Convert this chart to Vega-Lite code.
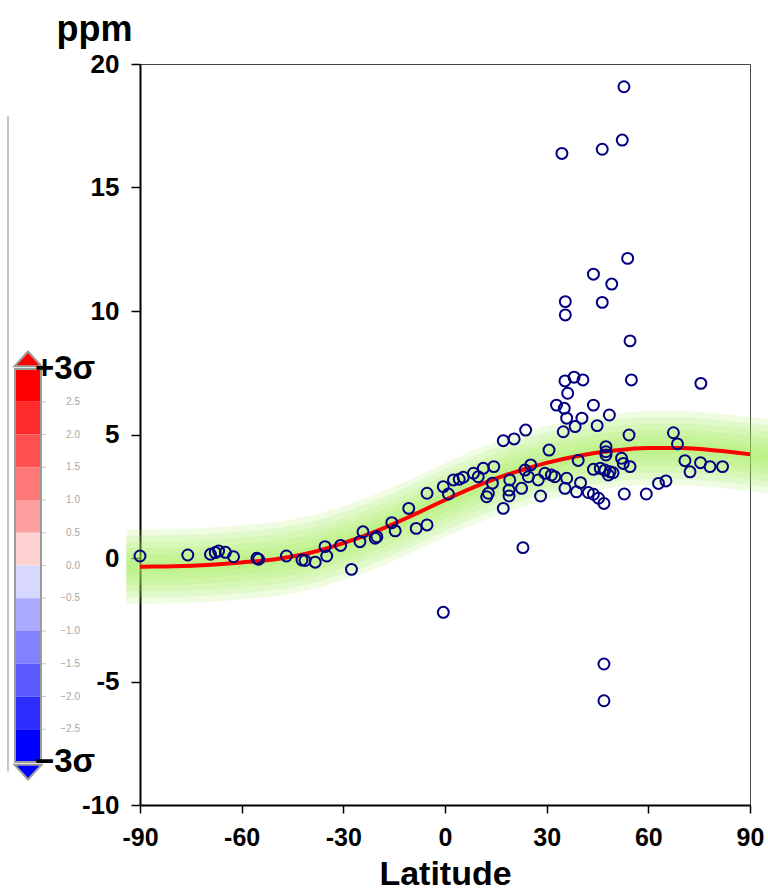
{
  "$schema": "https://vega.github.io/schema/vega-lite/v6.json",
  "background": "white",
  "autosize": {"type": "pad"},
  "padding": {"left": 0, "top": 10, "right": 15, "bottom": 2},
  "config": {"font": "Liberation Sans"},
  "datasets": {
    "pts": [
      {"lat": -90, "ppm": 0.08}, {"lat": -75.9, "ppm": 0.12}, {"lat": -69.2, "ppm": 0.15}, {"lat": -67.8, "ppm": 0.22},
      {"lat": -66.8, "ppm": 0.28}, {"lat": -64.8, "ppm": 0.23}, {"lat": -62.4, "ppm": 0.05}, {"lat": -55.5, "ppm": -0.01},
      {"lat": -55.0, "ppm": -0.05}, {"lat": -46.8, "ppm": 0.08}, {"lat": -42.2, "ppm": -0.08}, {"lat": -41.3, "ppm": -0.1},
      {"lat": -38.3, "ppm": -0.17}, {"lat": -34.9, "ppm": 0.08}, {"lat": -35.4, "ppm": 0.46}, {"lat": -30.8, "ppm": 0.51},
      {"lat": -27.6, "ppm": -0.46}, {"lat": -25.1, "ppm": 0.66}, {"lat": -24.2, "ppm": 1.06}, {"lat": -20.1, "ppm": 0.86},
      {"lat": -20.6, "ppm": 0.8}, {"lat": -15.7, "ppm": 1.43}, {"lat": -14.7, "ppm": 1.1}, {"lat": -10.7, "ppm": 2.01},
      {"lat": -8.5, "ppm": 1.2}, {"lat": -5.3, "ppm": 1.34}, {"lat": -5.3, "ppm": 2.62}, {"lat": -0.5, "ppm": 2.89},
      {"lat": 1.0, "ppm": 2.59}, {"lat": 2.5, "ppm": 3.16}, {"lat": 4.2, "ppm": 3.19}, {"lat": 5.4, "ppm": 3.27},
      {"lat": 8.4, "ppm": 3.43}, {"lat": 9.8, "ppm": 3.29}, {"lat": 11.3, "ppm": 3.63}, {"lat": 14.4, "ppm": 3.7},
      {"lat": 14.0, "ppm": 3.03}, {"lat": 12.3, "ppm": 2.48}, {"lat": 12.8, "ppm": 2.62}, {"lat": 17.2, "ppm": 2.01},
      {"lat": 19.1, "ppm": 3.16}, {"lat": 18.9, "ppm": 2.75}, {"lat": 18.9, "ppm": 2.51}, {"lat": 22.6, "ppm": 2.82},
      {"lat": 23.6, "ppm": 3.56}, {"lat": 25.3, "ppm": 3.77}, {"lat": 24.6, "ppm": 3.29}, {"lat": 27.5, "ppm": 3.16},
      {"lat": 28.2, "ppm": 2.51}, {"lat": 29.5, "ppm": 3.43}, {"lat": 31.4, "ppm": 3.36}, {"lat": 32.4, "ppm": 3.29},
      {"lat": 30.7, "ppm": 4.37}, {"lat": 17.2, "ppm": 4.75}, {"lat": 20.4, "ppm": 4.82}, {"lat": 23.8, "ppm": 5.18},
      {"lat": 35.4, "ppm": 7.17}, {"lat": 38.1, "ppm": 7.32}, {"lat": 40.7, "ppm": 7.21}, {"lat": 36.2, "ppm": 6.67},
      {"lat": 32.9, "ppm": 6.19}, {"lat": 35.2, "ppm": 6.06}, {"lat": 35.9, "ppm": 5.66}, {"lat": 40.4, "ppm": 5.66},
      {"lat": 43.8, "ppm": 6.19}, {"lat": 34.9, "ppm": 5.11}, {"lat": 38.4, "ppm": 5.32}, {"lat": 44.9, "ppm": 5.36},
      {"lat": 39.3, "ppm": 3.95}, {"lat": 35.9, "ppm": 3.23}, {"lat": 35.4, "ppm": 2.82}, {"lat": 38.8, "ppm": 2.68},
      {"lat": 40.0, "ppm": 3.05}, {"lat": 42.3, "ppm": 2.65}, {"lat": 43.8, "ppm": 2.58}, {"lat": 45.3, "ppm": 2.42},
      {"lat": 46.9, "ppm": 2.21}, {"lat": 43.8, "ppm": 3.59}, {"lat": 45.8, "ppm": 3.63}, {"lat": 47.2, "ppm": 3.56},
      {"lat": 48.7, "ppm": 3.49}, {"lat": 49.6, "ppm": 3.45}, {"lat": 48.2, "ppm": 3.36}, {"lat": 55.0, "ppm": 7.21},
      {"lat": 75.5, "ppm": 7.07}, {"lat": 48.5, "ppm": 5.79}, {"lat": 54.3, "ppm": 4.98}, {"lat": 67.4, "ppm": 5.07},
      {"lat": 68.6, "ppm": 4.62}, {"lat": 47.5, "ppm": 4.51}, {"lat": 47.5, "ppm": 4.3}, {"lat": 47.5, "ppm": 4.17},
      {"lat": 52.1, "ppm": 4.04}, {"lat": 52.6, "ppm": 3.83}, {"lat": 54.6, "ppm": 3.7}, {"lat": 70.8, "ppm": 3.94},
      {"lat": 72.3, "ppm": 3.49}, {"lat": 75.4, "ppm": 3.86}, {"lat": 78.2, "ppm": 3.7}, {"lat": 81.9, "ppm": 3.7},
      {"lat": 63.0, "ppm": 3.02}, {"lat": 65.2, "ppm": 3.12}, {"lat": 59.4, "ppm": 2.59}, {"lat": 52.9, "ppm": 2.59},
      {"lat": 52.8, "ppm": 19.08}, {"lat": 34.5, "ppm": 16.38}, {"lat": 46.4, "ppm": 16.55}, {"lat": 52.3, "ppm": 16.92},
      {"lat": 53.9, "ppm": 12.13}, {"lat": 43.8, "ppm": 11.49}, {"lat": 49.2, "ppm": 11.09}, {"lat": 35.5, "ppm": 10.38},
      {"lat": 35.5, "ppm": 9.84}, {"lat": 46.4, "ppm": 10.35}, {"lat": 54.6, "ppm": 8.79}, {"lat": 23.0, "ppm": 0.42},
      {"lat": -0.5, "ppm": -2.2}, {"lat": 46.9, "ppm": -4.29}, {"lat": 46.9, "ppm": -5.78}
    ],
    "fit": [
      {"lat": -94, "fit": -0.36, "l1": -0.61, "h1": -0.11, "l2": -0.86, "h2": 0.14, "l3": -1.11, "h3": 0.39, "l4": -1.36, "h4": 0.64, "l5": -1.61, "h5": 0.89, "l6": -1.86, "h6": 1.14},
      {"lat": -90, "fit": -0.35, "l1": -0.60, "h1": -0.10, "l2": -0.85, "h2": 0.15, "l3": -1.10, "h3": 0.40, "l4": -1.35, "h4": 0.65, "l5": -1.60, "h5": 0.90, "l6": -1.85, "h6": 1.15},
      {"lat": -80, "fit": -0.33, "l1": -0.58, "h1": -0.08, "l2": -0.83, "h2": 0.17, "l3": -1.08, "h3": 0.42, "l4": -1.33, "h4": 0.67, "l5": -1.58, "h5": 0.92, "l6": -1.83, "h6": 1.17},
      {"lat": -70, "fit": -0.28, "l1": -0.53, "h1": -0.03, "l2": -0.78, "h2": 0.22, "l3": -1.03, "h3": 0.47, "l4": -1.28, "h4": 0.72, "l5": -1.53, "h5": 0.97, "l6": -1.78, "h6": 1.22},
      {"lat": -60, "fit": -0.18, "l1": -0.43, "h1": 0.07, "l2": -0.68, "h2": 0.32, "l3": -0.93, "h3": 0.57, "l4": -1.18, "h4": 0.82, "l5": -1.43, "h5": 1.07, "l6": -1.68, "h6": 1.32},
      {"lat": -50, "fit": -0.05, "l1": -0.30, "h1": 0.20, "l2": -0.55, "h2": 0.45, "l3": -0.80, "h3": 0.70, "l4": -1.05, "h4": 0.95, "l5": -1.30, "h5": 1.20, "l6": -1.55, "h6": 1.45},
      {"lat": -40, "fit": 0.20, "l1": -0.05, "h1": 0.45, "l2": -0.30, "h2": 0.70, "l3": -0.55, "h3": 0.95, "l4": -0.80, "h4": 1.20, "l5": -1.05, "h5": 1.45, "l6": -1.30, "h6": 1.70},
      {"lat": -30, "fit": 0.60, "l1": 0.35, "h1": 0.85, "l2": 0.10, "h2": 1.10, "l3": -0.15, "h3": 1.35, "l4": -0.40, "h4": 1.60, "l5": -0.65, "h5": 1.85, "l6": -0.90, "h6": 2.10},
      {"lat": -20, "fit": 1.10, "l1": 0.85, "h1": 1.35, "l2": 0.60, "h2": 1.60, "l3": 0.35, "h3": 1.85, "l4": 0.10, "h4": 2.10, "l5": -0.15, "h5": 2.35, "l6": -0.40, "h6": 2.60},
      {"lat": -10, "fit": 1.70, "l1": 1.45, "h1": 1.95, "l2": 1.20, "h2": 2.20, "l3": 0.95, "h3": 2.45, "l4": 0.70, "h4": 2.70, "l5": 0.45, "h5": 2.95, "l6": 0.20, "h6": 3.20},
      {"lat": 0, "fit": 2.35, "l1": 2.10, "h1": 2.60, "l2": 1.85, "h2": 2.85, "l3": 1.60, "h3": 3.10, "l4": 1.35, "h4": 3.35, "l5": 1.10, "h5": 3.60, "l6": 0.85, "h6": 3.85},
      {"lat": 10, "fit": 2.95, "l1": 2.70, "h1": 3.20, "l2": 2.45, "h2": 3.45, "l3": 2.20, "h3": 3.70, "l4": 1.95, "h4": 3.95, "l5": 1.70, "h5": 4.20, "l6": 1.45, "h6": 4.45},
      {"lat": 20, "fit": 3.45, "l1": 3.20, "h1": 3.70, "l2": 2.95, "h2": 3.95, "l3": 2.70, "h3": 4.20, "l4": 2.45, "h4": 4.45, "l5": 2.20, "h5": 4.70, "l6": 1.95, "h6": 4.95},
      {"lat": 30, "fit": 3.85, "l1": 3.60, "h1": 4.10, "l2": 3.35, "h2": 4.35, "l3": 3.10, "h3": 4.60, "l4": 2.85, "h4": 4.85, "l5": 2.60, "h5": 5.10, "l6": 2.35, "h6": 5.35},
      {"lat": 40, "fit": 4.15, "l1": 3.90, "h1": 4.40, "l2": 3.65, "h2": 4.65, "l3": 3.40, "h3": 4.90, "l4": 3.15, "h4": 5.15, "l5": 2.90, "h5": 5.40, "l6": 2.65, "h6": 5.65},
      {"lat": 50, "fit": 4.35, "l1": 4.10, "h1": 4.60, "l2": 3.85, "h2": 4.85, "l3": 3.60, "h3": 5.10, "l4": 3.35, "h4": 5.35, "l5": 3.10, "h5": 5.60, "l6": 2.85, "h6": 5.85},
      {"lat": 60, "fit": 4.45, "l1": 4.20, "h1": 4.70, "l2": 3.95, "h2": 4.95, "l3": 3.70, "h3": 5.20, "l4": 3.45, "h4": 5.45, "l5": 3.20, "h5": 5.70, "l6": 2.95, "h6": 5.95},
      {"lat": 70, "fit": 4.45, "l1": 4.20, "h1": 4.70, "l2": 3.95, "h2": 4.95, "l3": 3.70, "h3": 5.20, "l4": 3.45, "h4": 5.45, "l5": 3.20, "h5": 5.70, "l6": 2.95, "h6": 5.95},
      {"lat": 80, "fit": 4.35, "l1": 4.10, "h1": 4.60, "l2": 3.85, "h2": 4.85, "l3": 3.60, "h3": 5.10, "l4": 3.35, "h4": 5.35, "l5": 3.10, "h5": 5.60, "l6": 2.85, "h6": 5.85},
      {"lat": 90, "fit": 4.20, "l1": 3.95, "h1": 4.45, "l2": 3.70, "h2": 4.70, "l3": 3.45, "h3": 4.95, "l4": 3.20, "h4": 5.20, "l5": 2.95, "h5": 5.45, "l6": 2.70, "h6": 5.70},
      {"lat": 96, "fit": 4.10, "l1": 3.85, "h1": 4.35, "l2": 3.60, "h2": 4.60, "l3": 3.35, "h3": 4.85, "l4": 3.10, "h4": 5.10, "l5": 2.85, "h5": 5.35, "l6": 2.60, "h6": 5.60}
    ],
    "cbar": [
      {"lo": 2.5, "hi": 3.0, "band": "b1"}, {"lo": 2.0, "hi": 2.5, "band": "b2"}, {"lo": 1.5, "hi": 2.0, "band": "b3"},
      {"lo": 1.0, "hi": 1.5, "band": "b4"}, {"lo": 0.5, "hi": 1.0, "band": "b5"}, {"lo": 0.0, "hi": 0.5, "band": "b6"},
      {"lo": -0.5, "hi": 0.0, "band": "b7"}, {"lo": -1.0, "hi": -0.5, "band": "b8"}, {"lo": -1.5, "hi": -1.0, "band": "b9"},
      {"lo": -2.0, "hi": -1.5, "band": "b10"}, {"lo": -2.5, "hi": -2.0, "band": "b11"}, {"lo": -3.0, "hi": -2.5, "band": "b12"}
    ],
    "cblab": [
      {"s": 2.5, "t": "2.5"}, {"s": 2.0, "t": "2.0"}, {"s": 1.5, "t": "1.5"}, {"s": 1.0, "t": "1.0"}, {"s": 0.5, "t": "0.5"},
      {"s": 0.0, "t": "0.0"}, {"s": -0.5, "t": "−0.5"}, {"s": -1.0, "t": "−1.0"}, {"s": -1.5, "t": "−1.5"}, {"s": -2.0, "t": "−2.0"},
      {"s": -2.5, "t": "−2.5"}
    ],
    "cbbig": [{"s": 3, "t": "+3σ"}, {"s": -3, "t": "−3σ"}]
  },
  "bounds": "flush",
  "spacing": 95,
  "hconcat": [
    {
      "width": 45,
      "height": 741,
      "view": {"stroke": null},
      "layer": [
        {
          "data": {"values": [{}]},
          "mark": {"type": "rule", "color": "#c4c4c4", "strokeWidth": 2, "clip": false},
          "encoding": {
            "x": {"datum": 8, "type": "quantitative", "scale": {"domain": [0, 45], "nice": false, "zero": false}, "axis": null},
            "y": {"datum": 6.86, "type": "quantitative", "scale": {"domain": [-3.656, 7.656], "nice": false, "zero": false}, "axis": null},
            "y2": {"datum": -3.14}
          }
        },
        {
          "data": {"name": "cbar"},
          "mark": {"type": "rect", "clip": false},
          "encoding": {
            "x": {"datum": 15, "type": "quantitative", "scale": {"domain": [0, 45], "nice": false, "zero": false}, "axis": null},
            "x2": {"datum": 41},
            "y": {"field": "lo", "type": "quantitative", "scale": {"domain": [-3.656, 7.656], "nice": false, "zero": false}, "axis": null},
            "y2": {"field": "hi"},
            "color": {"field": "band", "type": "nominal", "legend": null,
              "scale": {"domain": ["b1","b2","b3","b4","b5","b6","b7","b8","b9","b10","b11","b12"],
                        "range": ["#ff0000","#ff2b2b","#ff5050","#ff7878","#ffa0a0","#ffd2d2","#d7d7ff","#aaaaff","#8282ff","#5a5aff","#2d2dff","#0000ff"]}}
          }
        },
        {
          "data": {"name": "cbar"},
          "mark": {"type": "rule", "color": "#c8c8c8", "strokeWidth": 1, "clip": false},
          "encoding": {
            "x": {"datum": 41, "type": "quantitative", "axis": null},
            "x2": {"datum": 46},
            "y": {"field": "lo", "type": "quantitative", "axis": null}
          }
        },
        {
          "data": {"values": [{}]},
          "mark": {"type": "rect", "fill": null, "fillOpacity": 0, "stroke": "#9c9c9c", "strokeWidth": 2, "clip": false},
          "encoding": {
            "x": {"datum": 15, "type": "quantitative", "axis": null},
            "x2": {"datum": 41},
            "y": {"datum": -3, "type": "quantitative", "axis": null},
            "y2": {"datum": 3}
          }
        },
        {
          "data": {"values": [{}]},
          "mark": {"type": "point", "shape": "M-1,0L1,0L0,-1.1Z", "size": 729, "filled": true, "fill": "#ff0000", "fillOpacity": 1, "stroke": "#9c9c9c", "strokeWidth": 2, "opacity": 1, "clip": false},
          "encoding": {
            "x": {"datum": 28, "type": "quantitative", "axis": null},
            "y": {"datum": 3.04, "type": "quantitative", "axis": null}
          }
        },
        {
          "data": {"values": [{}]},
          "mark": {"type": "point", "shape": "M-1,0L1,0L0,1.1Z", "size": 729, "filled": true, "fill": "#0000ff", "fillOpacity": 1, "stroke": "#9c9c9c", "strokeWidth": 2, "opacity": 1, "clip": false},
          "encoding": {
            "x": {"datum": 28, "type": "quantitative", "axis": null},
            "y": {"datum": -3.04, "type": "quantitative", "axis": null}
          }
        },
        {
          "data": {"name": "cblab"},
          "mark": {"type": "text", "align": "right", "baseline": "middle", "fontSize": 10, "color": "#a8a8a8", "clip": false},
          "encoding": {
            "x": {"datum": 80, "type": "quantitative", "axis": null},
            "y": {"field": "s", "type": "quantitative", "axis": null},
            "text": {"field": "t"}
          }
        },
        {
          "data": {"name": "cbbig"},
          "mark": {"type": "text", "align": "left", "baseline": "middle", "fontSize": 33, "fontWeight": "bold", "color": "#000000", "clip": false},
          "encoding": {
            "x": {"datum": 35, "type": "quantitative", "axis": null},
            "y": {"field": "s", "type": "quantitative", "axis": null},
            "text": {"field": "t"}
          }
        }
      ]
    },
    {
      "width": 610,
      "height": 741,
      "view": {"stroke": "#444444", "strokeWidth": 1},
      "encoding": {
        "x": {"type": "quantitative", "scale": {"domain": [-90, 90], "nice": false, "zero": false},
          "axis": {"title": "Latitude", "values": [-90, -60, -30, 0, 30, 60, 90],
            "labelExpr": "datum.value < 0 ? '-' + abs(datum.value) : '' + datum.value",
            "domainColor": "#000000", "domainWidth": 2, "tickColor": "#000000", "tickWidth": 1.5, "tickSize": 8,
            "labelFont": "Liberation Sans", "labelFontSize": 25, "labelFontWeight": "bold", "labelColor": "#000000", "labelPadding": 12,
            "labelOverlap": false, "labelFlush": false,
            "titleFont": "Liberation Sans", "titleFontSize": 34, "titleFontWeight": "bold", "titleColor": "#000000", "titlePadding": 7, "grid": false}},
        "y": {"type": "quantitative", "scale": {"domain": [-10, 20], "nice": false, "zero": false},
          "axis": {"title": "ppm", "values": [-10, -5, 0, 5, 10, 15, 20],
            "labelExpr": "datum.value < 0 ? '-' + abs(datum.value) : '' + datum.value",
            "domainColor": "#000000", "domainWidth": 2, "tickColor": "#000000", "tickWidth": 1.5, "tickSize": 9,
            "labelFont": "Liberation Sans", "labelFontSize": 26, "labelFontWeight": "bold", "labelColor": "#000000", "labelPadding": 12,
            "labelOverlap": false, "labelFlush": false,
            "titleFont": "Liberation Sans", "titleFontSize": 36, "titleFontWeight": "bold", "titleColor": "#000000",
            "titleAngle": 0, "titleAlign": "center", "titleBaseline": "alphabetic", "titleX": -46, "titleY": -24, "grid": false}}
      },
      "layer": [
        {"data": {"name": "fit"}, "mark": {"type": "area", "interpolate": "monotone", "color": "#a0ec55", "opacity": 0.17, "clip": false},
         "encoding": {"x": {"field": "lat"}, "y": {"field": "l6"}, "y2": {"field": "h6"}}},
        {"data": {"name": "fit"}, "mark": {"type": "area", "interpolate": "monotone", "color": "#a0ec55", "opacity": 0.17, "clip": false},
         "encoding": {"x": {"field": "lat"}, "y": {"field": "l5"}, "y2": {"field": "h5"}}},
        {"data": {"name": "fit"}, "mark": {"type": "area", "interpolate": "monotone", "color": "#a0ec55", "opacity": 0.17, "clip": false},
         "encoding": {"x": {"field": "lat"}, "y": {"field": "l4"}, "y2": {"field": "h4"}}},
        {"data": {"name": "fit"}, "mark": {"type": "area", "interpolate": "monotone", "color": "#a0ec55", "opacity": 0.17, "clip": false},
         "encoding": {"x": {"field": "lat"}, "y": {"field": "l3"}, "y2": {"field": "h3"}}},
        {"data": {"name": "fit"}, "mark": {"type": "area", "interpolate": "monotone", "color": "#a0ec55", "opacity": 0.17, "clip": false},
         "encoding": {"x": {"field": "lat"}, "y": {"field": "l2"}, "y2": {"field": "h2"}}},
        {"data": {"name": "fit"}, "mark": {"type": "area", "interpolate": "monotone", "color": "#a0ec55", "opacity": 0.17, "clip": false},
         "encoding": {"x": {"field": "lat"}, "y": {"field": "l1"}, "y2": {"field": "h1"}}},
        {"data": {"name": "fit"}, "mark": {"type": "line", "interpolate": "monotone", "color": "#ff0000", "strokeWidth": 4, "clip": true},
         "encoding": {"x": {"field": "lat"}, "y": {"field": "fit"}}},
        {"data": {"name": "pts"},
         "mark": {"type": "point", "shape": "circle", "filled": false, "stroke": "#000080", "strokeWidth": 2, "size": 120, "opacity": 1, "clip": false},
         "encoding": {"x": {"field": "lat"}, "y": {"field": "ppm"}}}
      ]
    }
  ]
}
